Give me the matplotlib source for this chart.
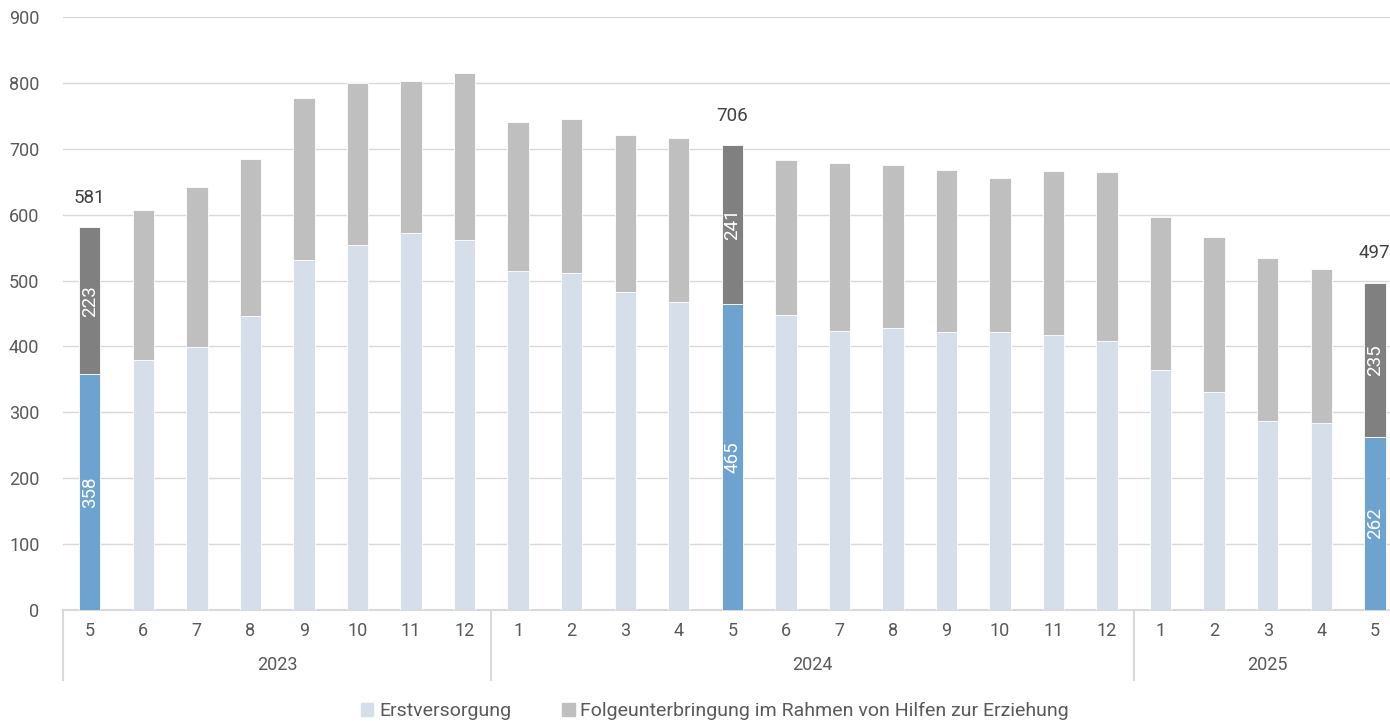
import matplotlib
matplotlib.use("Agg")
import matplotlib.pyplot as plt
import matplotlib.transforms as mtransforms
from matplotlib.patches import Patch

# Daten
monate = ["5", "6", "7", "8", "9", "10", "11", "12",
          "1", "2", "3", "4", "5", "6", "7", "8", "9", "10", "11", "12",
          "1", "2", "3", "4", "5"]
jahre = ["2023", "2024", "2025"]
jahr_monate = [8, 12, 5]  # anzahl monate je jahr
erstversorgung = [358, 380, 399, 446, 531, 554, 573, 562,
                  515, 511, 482, 467, 465, 448, 424, 428, 422, 422, 417, 409,
                  364, 331, 287, 284, 262]
folgeunterbringung = [223, 228, 243, 239, 247, 246, 230, 254,
                      226, 235, 239, 250, 241, 236, 254, 248, 246, 234, 250, 256,
                      232, 235, 248, 233, 235]
hervorgehoben = [0, 12, 24]

plt.rcParams['font.family'] = ['Roboto', 'DejaVu Sans']
textfarbe = "#595959"
gitter = "#D9D9D9"

fig = plt.figure(figsize=(13.9, 7.21), dpi=100)
ax = fig.add_axes([63 / 1390, 111.2 / 721, 1338.6 / 1390, 592.5 / 721])

x = list(range(len(monate)))
farben_erst = ["#6FA3CF" if i in hervorgehoben else "#D6DFE9" for i in x]
farben_folge = ["#808080" if i in hervorgehoben else "#BFBFBF" for i in x]

b1 = ax.bar(x, erstversorgung, width=0.4, color=farben_erst,
            edgecolor="white", linewidth=0.6, zorder=3)
b2 = ax.bar(x, folgeunterbringung, width=0.4, bottom=erstversorgung,
            color=farben_folge, edgecolor="white", linewidth=0.6, zorder=3)

lab1 = [str(v) if i in hervorgehoben else "" for i, v in enumerate(erstversorgung)]
lab2 = [str(v) if i in hervorgehoben else "" for i, v in enumerate(folgeunterbringung)]
ax.bar_label(b1, labels=lab1, label_type="center", rotation=90,
             color="white", fontsize=13.5, zorder=4)
ax.bar_label(b2, labels=lab2, label_type="center", rotation=90,
             color="white", fontsize=13.5, zorder=4)

for i in hervorgehoben:
    gesamt = erstversorgung[i] + folgeunterbringung[i]
    ax.annotate(str(gesamt), (i, gesamt), xytext=(0, 21), textcoords="offset points",
                ha="center", va="center", fontsize=13.5, color="#404040")

ax.set_xlim(-0.5, len(monate) - 0.5)
ax.set_ylim(0, 900)
ax.set_yticks(range(0, 901, 100))
ax.yaxis.grid(True, color=gitter, linewidth=1.0, zorder=0)
ax.tick_params(axis="y", length=0, pad=17, labelsize=13, labelcolor=textfarbe)
for lbl in ax.get_yticklabels():
    lbl.set_horizontalalignment("right")

ax.set_xticks(x)
ax.set_xticklabels(monate)
ax.tick_params(axis="x", length=0, pad=9, labelsize=13, labelcolor=textfarbe)

for s in ["top", "right", "left"]:
    ax.spines[s].set_visible(False)
ax.spines["bottom"].set_color(gitter)
ax.spines["bottom"].set_linewidth(1.5)

# Jahresgruppen
trans = mtransforms.blended_transform_factory(ax.transData, ax.transAxes)
grenzen = [-0.5]
for n in jahr_monate:
    grenzen.append(grenzen[-1] + n)
for g in grenzen:
    ax.plot([g, g], [0, -0.119], transform=trans, color=gitter,
            linewidth=1.5, clip_on=False)
for j, jahr in enumerate(jahre):
    mitte = (grenzen[j] + grenzen[j + 1]) / 2
    ax.text(mitte, -0.094, jahr, transform=trans, ha="center", va="center",
            fontsize=13, color=textfarbe)

handles = [Patch(color="#D6DFE9", label="Erstversorgung"),
           Patch(color="#BFBFBF", label="Folgeunterbringung im Rahmen von Hilfen zur Erziehung")]
fig.legend(handles=handles, loc="center", bbox_to_anchor=(715 / 1390, 1 - 711 / 721),
           ncol=2, frameon=False, fontsize=14, labelcolor=textfarbe,
           handlelength=0.65, handleheight=0.65, handletextpad=0.3, columnspacing=2.6)

fig.savefig("out.png", dpi=100)
